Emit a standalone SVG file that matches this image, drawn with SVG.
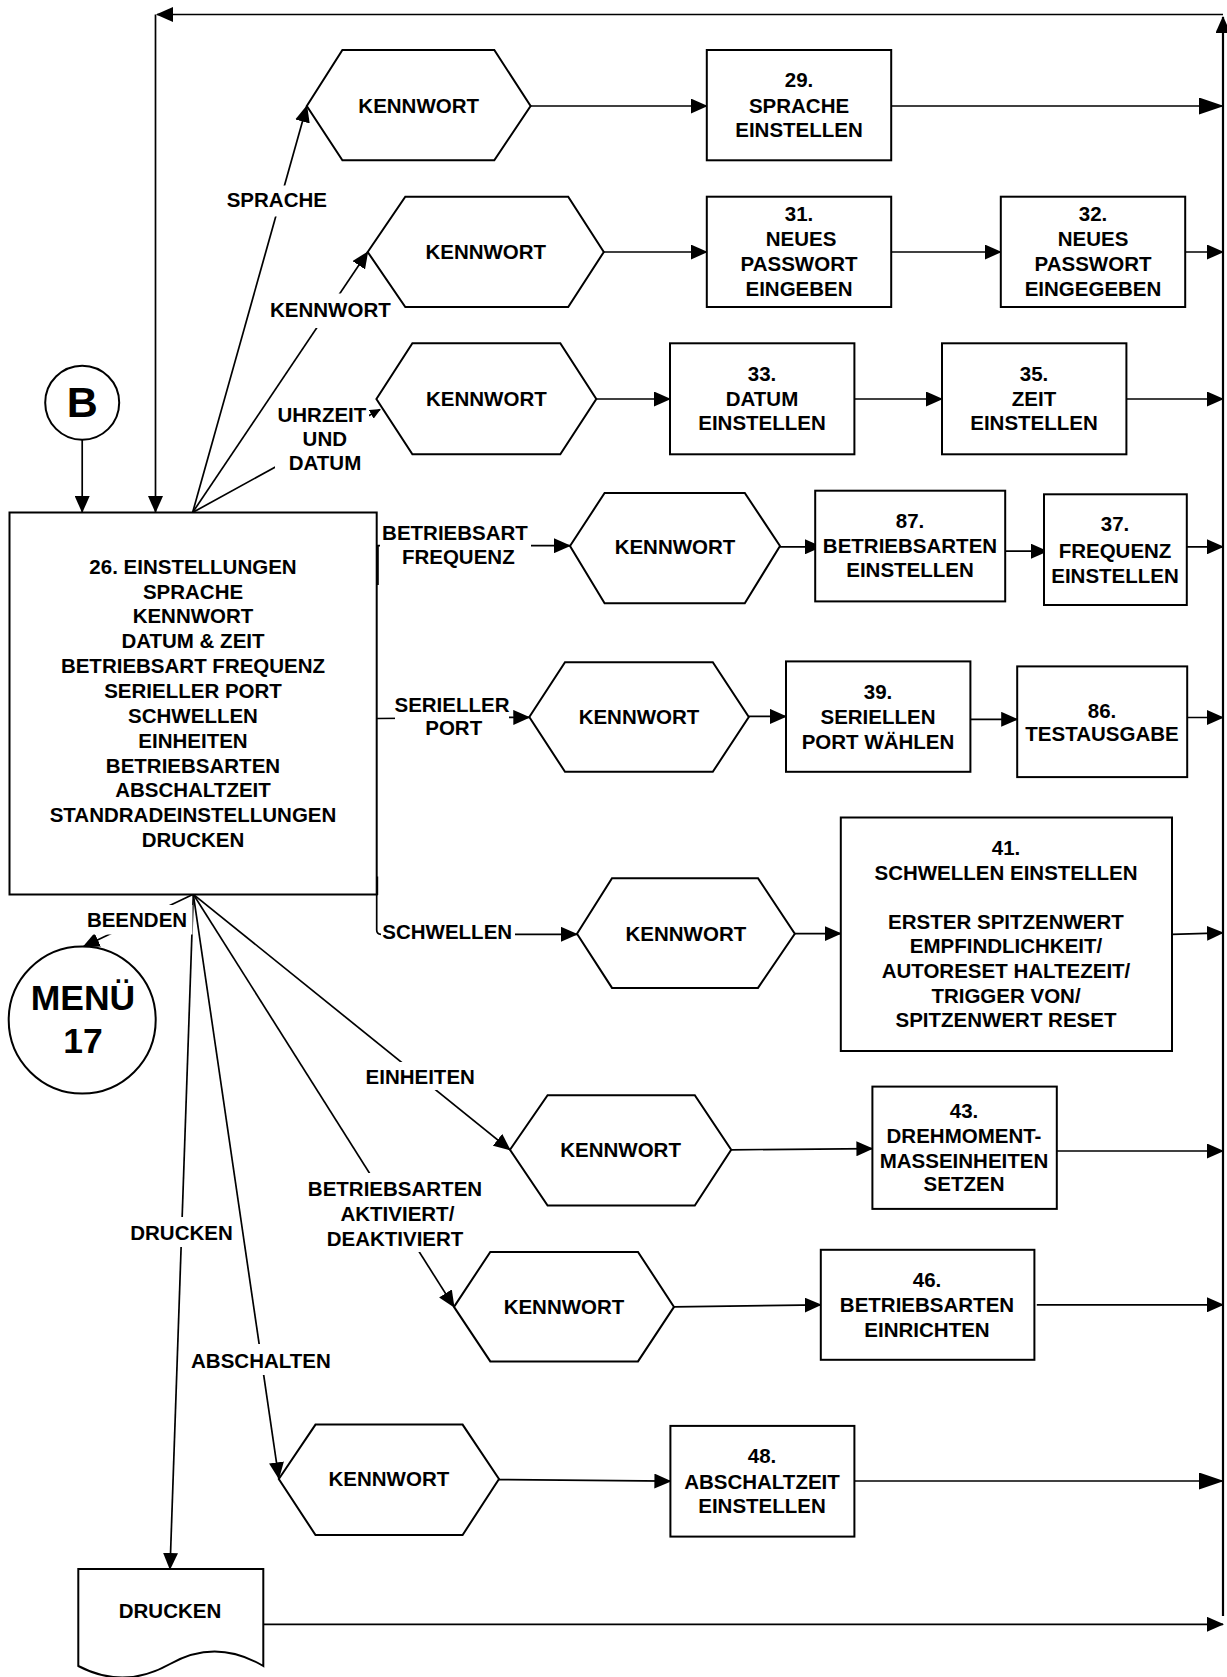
<svg xmlns="http://www.w3.org/2000/svg" width="1227" height="1677" viewBox="0 0 1227 1677">
<style>
text{font-family:"Liberation Sans",Arial,sans-serif;font-weight:bold;font-size:20.5px;fill:#000;text-anchor:middle}
.shape{fill:#fff;stroke:#000;stroke-width:2}
.ln{fill:none;stroke:#000;stroke-width:1.7}
.bg{fill:#fff;stroke:none}
</style>
<defs>
<marker id="a" markerUnits="userSpaceOnUse" markerWidth="17" markerHeight="15" refX="16" refY="7.5" orient="auto"><path d="M0,0 L17,7.5 L0,15 Z" fill="#000"/></marker>
<marker id="big" markerUnits="userSpaceOnUse" markerWidth="25" markerHeight="17" refX="24" refY="8.5" orient="auto"><path d="M0,0 L25,8.5 L0,17 Z" fill="#000"/></marker>
<marker id="sm" markerUnits="userSpaceOnUse" markerWidth="11" markerHeight="10" refX="10" refY="5" orient="auto"><path d="M0,0 L11,5 L0,10 Z" fill="#000"/></marker>
</defs>
<rect width="1227" height="1677" fill="#fff"/>

<g id="connectors">
<!-- return loop -->
<path class="ln" d="M1223,1616 V17" marker-end="url(#a)" style="stroke-width:2.2"/>
<path class="ln" d="M1223,14.5 H157" marker-end="url(#a)"/>
<path class="ln" d="M155.5,14.5 V512" marker-end="url(#a)"/>
<!-- B to main -->
<path class="ln" d="M82.2,440 V512" marker-end="url(#a)"/>
<!-- fan from top -->
<path class="ln" d="M192.6,512.5 L306.8,106" marker-end="url(#a)"/>
<path class="ln" d="M192.6,512.5 L367.7,252" marker-end="url(#a)"/>
<path class="ln" d="M192.6,512.5 L380,409.5" marker-end="url(#sm)"/>
<rect class="bg" x="226" y="185.5" width="102" height="31"/>
<text x="276.8" y="207.3">SPRACHE</text>
<rect class="bg" x="272" y="293.5" width="116" height="34.5"/>
<text x="330.4" y="316.7">KENNWORT</text>
<rect class="bg" x="275" y="398" width="94" height="77"/>
<text x="321.9" y="421.7">UHRZEIT</text>
<text x="324.8" y="445.7">UND</text>
<text x="325" y="470">DATUM</text>
<!-- right side of main box -->
<path class="ln" d="M377.3,545 V585" style="stroke-width:3"/>
<path class="ln" d="M377,545.7 H570" marker-end="url(#a)"/>
<rect class="bg" x="380" y="518" width="151" height="52"/>
<text x="455" y="540">BETRIEBSART</text>
<text x="458.3" y="564">FREQUENZ</text>
<path class="ln" d="M377,718.5 L529.3,717.3" marker-end="url(#a)"/>
<rect class="bg" x="395" y="690" width="114" height="52"/>
<text x="452" y="711.7">SERIELLER</text>
<text x="453.7" y="735">PORT</text>
<path class="ln" d="M376.7,876.5 V895" style="stroke-width:3"/>
<path class="ln" d="M376.7,895 V930 Q376.7,934.3 381,934.3 H577" marker-end="url(#a)"/>
<rect class="bg" x="381" y="922" width="134" height="24"/>
<text x="447.2" y="939.3">SCHWELLEN</text>
<!-- fan from bottom -->
<path class="ln" d="M193.3,894.3 L83.3,946.7" marker-end="url(#a)"/>
<path class="ln" d="M193.3,894.3 L170,1569" marker-end="url(#a)"/>
<path class="ln" d="M193.3,894.3 L278.8,1478.3" marker-end="url(#a)"/>
<path class="ln" d="M193.3,894.3 L454,1306.9" marker-end="url(#a)"/>
<path class="ln" d="M193.3,894.3 L510,1149.8" marker-end="url(#a)"/>
<rect class="bg" x="86" y="905" width="106.5" height="29.5"/>
<text x="137" y="926.7">BEENDEN</text>
<rect class="bg" x="367" y="1062" width="106" height="28"/>
<text x="420.2" y="1083.7">EINHEITEN</text>
<rect class="bg" x="306" y="1173" width="178" height="79"/>
<text x="395" y="1196">BETRIEBSARTEN</text>
<text x="397.4" y="1221">AKTIVIERT/</text>
<text x="395" y="1245.7">DEAKTIVIERT</text>
<rect class="bg" x="128" y="1217" width="107" height="30"/>
<text x="181.5" y="1239.5">DRUCKEN</text>
<rect class="bg" x="190" y="1344" width="142" height="31"/>
<text x="260.9" y="1367.6">ABSCHALTEN</text>
<!-- rows -->
<path class="ln" d="M530.6,106 H706.8" marker-end="url(#a)"/>
<path class="ln" d="M891.2,106 H1223" marker-end="url(#big)"/>
<path class="ln" d="M603.8,252 H706.8" marker-end="url(#a)"/>
<path class="ln" d="M891.2,252 H1000.8" marker-end="url(#a)"/>
<path class="ln" d="M1185.2,252 H1223" marker-end="url(#a)"/>
<path class="ln" d="M596.3,399 H670" marker-end="url(#a)"/>
<path class="ln" d="M854.4,399 H942" marker-end="url(#a)"/>
<path class="ln" d="M1126.4,399 H1223" marker-end="url(#a)"/>
<path class="ln" d="M780,546.8 H821" marker-end="url(#a)"/>
<path class="ln" d="M1005.2,551.2 H1047" marker-end="url(#a)"/>
<path class="ln" d="M1186.8,546.8 H1223" marker-end="url(#a)"/>
<path class="ln" d="M748.8,716.4 H786" marker-end="url(#a)"/>
<path class="ln" d="M970.4,719.3 H1017.2" marker-end="url(#a)"/>
<path class="ln" d="M1187.2,717.5 H1223" marker-end="url(#a)"/>
<path class="ln" d="M794.8,933.6 H840.8" marker-end="url(#a)"/>
<path class="ln" d="M1172,934.3 L1223,932.9" marker-end="url(#a)"/>
<path class="ln" d="M731.2,1149.8 L872.4,1148.6" marker-end="url(#a)"/>
<path class="ln" d="M1056.8,1151 H1223" marker-end="url(#a)"/>
<path class="ln" d="M674,1306.9 L820.8,1304.8" marker-end="url(#a)"/>
<path class="ln" d="M1036.8,1304.8 H1223" marker-end="url(#a)"/>
<path class="ln" d="M499,1479.6 L670.4,1481.2" marker-end="url(#a)"/>
<path class="ln" d="M854.4,1481 H1223" marker-end="url(#big)"/>
<path class="ln" d="M263.3,1624.3 H1223" marker-end="url(#a)"/>
</g>

<g id="node-b">
<circle class="shape" cx="82.2" cy="402.7" r="37"/>
<text x="82.2" y="416.7" style="font-size:43px">B</text>
</g>

<g id="node-26">
<rect class="shape" x="9.5" y="512.5" width="367.2" height="382"/>
<text x="193" y="573.6">26. EINSTELLUNGEN</text>
<text x="193" y="598.5">SPRACHE</text>
<text x="193" y="623.3">KENNWORT</text>
<text x="193" y="648.2">DATUM &amp; ZEIT</text>
<text x="193" y="673">BETRIEBSART FREQUENZ</text>
<text x="193" y="697.9">SERIELLER PORT</text>
<text x="193" y="722.8">SCHWELLEN</text>
<text x="193" y="747.6">EINHEITEN</text>
<text x="193" y="772.5">BETRIEBSARTEN</text>
<text x="193" y="797.3">ABSCHALTZEIT</text>
<text x="193" y="822.2">STANDRADEINSTELLUNGEN</text>
<text x="193" y="847.1">DRUCKEN</text>
</g>

<g id="node-menu17">
<circle class="shape" cx="82.2" cy="1020" r="73.5"/>
<text x="83" y="1010" style="font-size:35.5px">MENÜ</text>
<text x="83" y="1053.3" style="font-size:35.5px">17</text>
</g>

<g id="hex-sprache">
<polygon class="shape" points="306.8,106 342.4,50 494.3,50 530.6,106 494.3,160.3 342.4,160.3"/>
<text x="418.7" y="113">KENNWORT</text>
</g>
<g id="hex-kennwort">
<polygon class="shape" points="367.7,252 405.3,196.7 568.2,196.7 603.8,252 568.2,307 405.3,307"/>
<text x="485.8" y="259">KENNWORT</text>
</g>
<g id="hex-datum">
<polygon class="shape" points="376.4,399 412.4,343.3 560.3,343.3 596.3,399 560.3,454.3 412.4,454.3"/>
<text x="486.4" y="406">KENNWORT</text>
</g>
<g id="hex-frequenz">
<polygon class="shape" points="570,546 604.6,493 744.8,493 780,546 744.8,603.2 604.6,603.2"/>
<text x="675" y="553.5">KENNWORT</text>
</g>
<g id="hex-port">
<polygon class="shape" points="529.3,717 565,662.2 712.8,662.2 748.8,717 712.8,771.8 565,771.8"/>
<text x="639" y="724">KENNWORT</text>
</g>
<g id="hex-schwellen">
<polygon class="shape" points="577,933.8 612,878.2 758,878.2 794.8,933.8 758,987.9 612,987.9"/>
<text x="685.9" y="940.8">KENNWORT</text>
</g>
<g id="hex-einheiten">
<polygon class="shape" points="510,1149.8 547.6,1095.3 694.8,1095.3 731.2,1149.8 694.8,1205.6 547.6,1205.6"/>
<text x="620.6" y="1157">KENNWORT</text>
</g>
<g id="hex-betriebsarten">
<polygon class="shape" points="454,1306.9 490.3,1251.9 638,1251.9 674,1306.9 638,1361.4 490.3,1361.4"/>
<text x="564" y="1314">KENNWORT</text>
</g>
<g id="hex-abschalten">
<polygon class="shape" points="278.8,1479 315.5,1424.6 462.6,1424.6 499,1479 462.6,1535 315.5,1535"/>
<text x="388.9" y="1486">KENNWORT</text>
</g>

<g id="node-29">
<rect class="shape" x="706.8" y="50" width="184.4" height="110.3"/>
<text x="799" y="87.3">29.</text>
<text x="799" y="112.7">SPRACHE</text>
<text x="799" y="136.7">EINSTELLEN</text>
</g>
<g id="node-31">
<rect class="shape" x="706.8" y="196.7" width="184.4" height="110.3"/>
<text x="799" y="220.7">31.</text>
<text x="801" y="246.2">NEUES</text>
<text x="799" y="271.2">PASSWORT</text>
<text x="799" y="296">EINGEBEN</text>
</g>
<g id="node-32">
<rect class="shape" x="1000.8" y="196.7" width="184.4" height="110.3"/>
<text x="1093" y="220.7">32.</text>
<text x="1093" y="246.2">NEUES</text>
<text x="1093" y="271.2">PASSWORT</text>
<text x="1093" y="296">EINGEGEBEN</text>
</g>
<g id="node-33">
<rect class="shape" x="670" y="343.3" width="184.4" height="111"/>
<text x="762" y="381">33.</text>
<text x="762" y="406">DATUM</text>
<text x="762" y="430">EINSTELLEN</text>
</g>
<g id="node-35">
<rect class="shape" x="942" y="343.3" width="184.4" height="111"/>
<text x="1034" y="381">35.</text>
<text x="1034" y="406">ZEIT</text>
<text x="1034" y="430">EINSTELLEN</text>
</g>
<g id="node-87">
<rect class="shape" x="815.2" y="490.7" width="190" height="110.7"/>
<text x="910" y="528.2">87.</text>
<text x="910" y="553.2">BETRIEBSARTEN</text>
<text x="910" y="577.1">EINSTELLEN</text>
</g>
<g id="node-37">
<rect class="shape" x="1044" y="494.3" width="142.8" height="110.7"/>
<text x="1115" y="530.7">37.</text>
<text x="1115" y="557.9">FREQUENZ</text>
<text x="1115" y="582.5">EINSTELLEN</text>
</g>
<g id="node-39">
<rect class="shape" x="786" y="661.4" width="184.4" height="110.4"/>
<text x="878" y="698.6">39.</text>
<text x="878" y="723.6">SERIELLEN</text>
<text x="878" y="748.6">PORT WÄHLEN</text>
</g>
<g id="node-86">
<rect class="shape" x="1017.2" y="666.4" width="170" height="110.7"/>
<text x="1102" y="717.5">86.</text>
<text x="1102" y="741.4">TESTAUSGABE</text>
</g>
<g id="node-41">
<rect class="shape" x="840.8" y="817.5" width="331.2" height="233.5"/>
<text x="1006" y="855">41.</text>
<text x="1006" y="879.5">SCHWELLEN EINSTELLEN</text>
<text x="1006" y="928.8">ERSTER SPITZENWERT</text>
<text x="1006" y="953.4">EMPFINDLICHKEIT/</text>
<text x="1006" y="978">AUTORESET HALTEZEIT/</text>
<text x="1006" y="1002.6">TRIGGER VON/</text>
<text x="1006" y="1027.2">SPITZENWERT RESET</text>
</g>
<g id="node-43">
<rect class="shape" x="872.4" y="1086.6" width="184.4" height="122.3"/>
<text x="964" y="1118">43.</text>
<text x="964" y="1142.8">DREHMOMENT-</text>
<text x="964" y="1167.6">MASSEINHEITEN</text>
<text x="964" y="1191.2">SETZEN</text>
</g>
<g id="node-46">
<rect class="shape" x="820.8" y="1249.8" width="213.6" height="110"/>
<text x="927" y="1287">46.</text>
<text x="927" y="1312.2">BETRIEBSARTEN</text>
<text x="927" y="1336.6">EINRICHTEN</text>
</g>
<g id="node-48">
<rect class="shape" x="670.4" y="1425.9" width="184" height="110.7"/>
<text x="762" y="1463">48.</text>
<text x="762" y="1488.7">ABSCHALTZEIT</text>
<text x="762" y="1512.7">EINSTELLEN</text>
</g>
<g id="node-drucken">
<path class="shape" d="M78.3,1569 H263.3 V1666 Q216,1638 170,1664 Q124,1690 78.3,1666 Z"/>
<text x="170" y="1617.7">DRUCKEN</text>
</g>
</svg>
